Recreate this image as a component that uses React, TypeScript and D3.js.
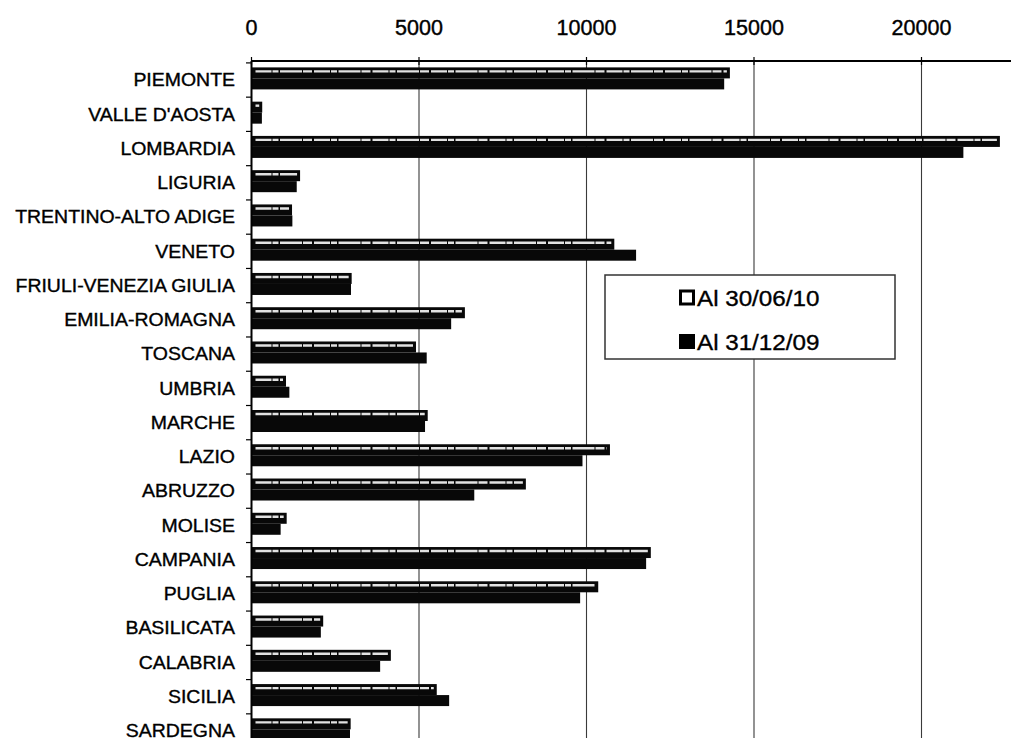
import React from "react";
import * as d3 from "d3";

const categories = [
  "PIEMONTE", "VALLE D'AOSTA", "LOMBARDIA", "LIGURIA", "TRENTINO-ALTO ADIGE",
  "VENETO", "FRIULI-VENEZIA GIULIA", "EMILIA-ROMAGNA", "TOSCANA", "UMBRIA",
  "MARCHE", "LAZIO", "ABRUZZO", "MOLISE", "CAMPANIA", "PUGLIA", "BASILICATA",
  "CALABRIA", "SICILIA", "SARDEGNA",
];
const seriesNames = ["Al 30/06/10", "Al 31/12/09"];
const values2010 = [14280, 320, 22340, 1450, 1210, 10830, 2990, 6370, 4910, 1030, 5260, 10700, 8190, 1050, 11920, 10350, 2140, 4160, 5530, 2960];
const values2009 = [14110, 310, 21250, 1350, 1220, 11480, 2970, 5960, 5230, 1130, 5180, 9880, 6650, 870, 11780, 9810, 2070, 3840, 5900, 2940];
const xTicks = [0, 5000, 10000, 15000, 20000];

const W = 1011;
const H = 738;
const FONT = "'Liberation Sans', Arial, sans-serif";

export default function App() {
  const x = d3.scaleLinear().domain([0, 20000]).range([251.5, 921.5]);
  const step = 34.26;
  const y0 = 62.9;
  const y = d3.scaleBand<string>().domain(categories).range([y0, y0 + step * categories.length]).padding(0);
  const sub = d3.scaleBand<string>().domain(seriesNames).range([4.5, 26.5]).padding(0);
  const axisY = 61;

  return (
    <svg width={W} height={H} style={{ position: "absolute", left: 0, top: 0, background: "#fff" }}>
      <rect x={0} y={0} width={W} height={H} fill="#fff" />
      {/* gridlines */}
      {xTicks.slice(1).map((t) => (
        <line key={"g" + t} x1={x(t)} x2={x(t)} y1={axisY} y2={H} stroke="#3a3a3a" strokeWidth={1.1} />
      ))}
      {/* bars */}
      {categories.map((c, i) => {
        const by = y(c)!;
        const yw = by + sub(seriesNames[0])!;
        const yb = by + sub(seriesNames[1])!;
        const bh = sub.bandwidth();
        const ww = x(values2010[i]) - x(0);
        const wb = x(values2009[i]) - x(0);
        return (
          <g key={c}>
            <rect x={x(0)} y={yb} width={wb} height={bh} fill="#080808" />
            <rect x={x(0)} y={yw} width={ww} height={bh} fill="#080808" />
            <line
              x1={x(0) + 4}
              x2={x(0) + Math.max(4, ww - 3)}
              y1={yw + 4}
              y2={yw + 4}
              stroke="#e2e2e2"
              strokeWidth={2.4}
              strokeDasharray="16 1 6 1.5 22 1 9 2"
            />
          </g>
        );
      })}
      {/* top axis */}
      <line x1={x(0)} x2={W} y1={axisY} y2={axisY} stroke="#000" strokeWidth={2} />
      {xTicks.map((t) => (
        <g key={"t" + t}>
          <line x1={x(t)} x2={x(t)} y1={axisY - 4} y2={axisY + 4} stroke="#000" strokeWidth={1.2} />
          <text x={x(t)} y={35} textAnchor="middle" fontFamily={FONT} fontSize={21.5} fill="#000" stroke="#000" strokeWidth={0.4}>
            {t}
          </text>
        </g>
      ))}
      {/* left axis */}
      <line x1={x(0)} x2={x(0)} y1={axisY} y2={H} stroke="#000" strokeWidth={2} />
      {categories.map((c) => (
        <line key={"lt" + c} x1={x(0) - 5.5} x2={x(0)} y1={y(c)!} y2={y(c)!} stroke="#000" strokeWidth={1.2} />
      ))}
      {categories.map((c) => (
        <text
          key={"l" + c}
          transform={`translate(235, ${Math.min(736.5, y(c)! + step / 2 + 6.3)}) scale(1.1,1)`}
          textAnchor="end"
          fontFamily={FONT}
          fontSize={17.7}
          fill="#000"
          stroke="#000"
          strokeWidth={0.35}
        >
          {c}
        </text>
      ))}
      {/* legend */}
      <rect x={605} y={275} width={290} height={84} fill="#fff" stroke="#333" strokeWidth={1.5} />
      <rect x={680.5} y={291} width={13} height={13} fill="#fff" stroke="#000" strokeWidth={3} />
      <text transform="translate(697, 306) scale(1.1,1)" fontFamily={FONT} fontSize={22} fill="#000" stroke="#000" strokeWidth={0.35}>
        {seriesNames[0]}
      </text>
      <rect x={679} y={334} width={16} height={15} fill="#000" />
      <text transform="translate(697, 349.5) scale(1.1,1)" fontFamily={FONT} fontSize={22} fill="#000" stroke="#000" strokeWidth={0.35}>
        {seriesNames[1]}
      </text>
    </svg>
  );
}
